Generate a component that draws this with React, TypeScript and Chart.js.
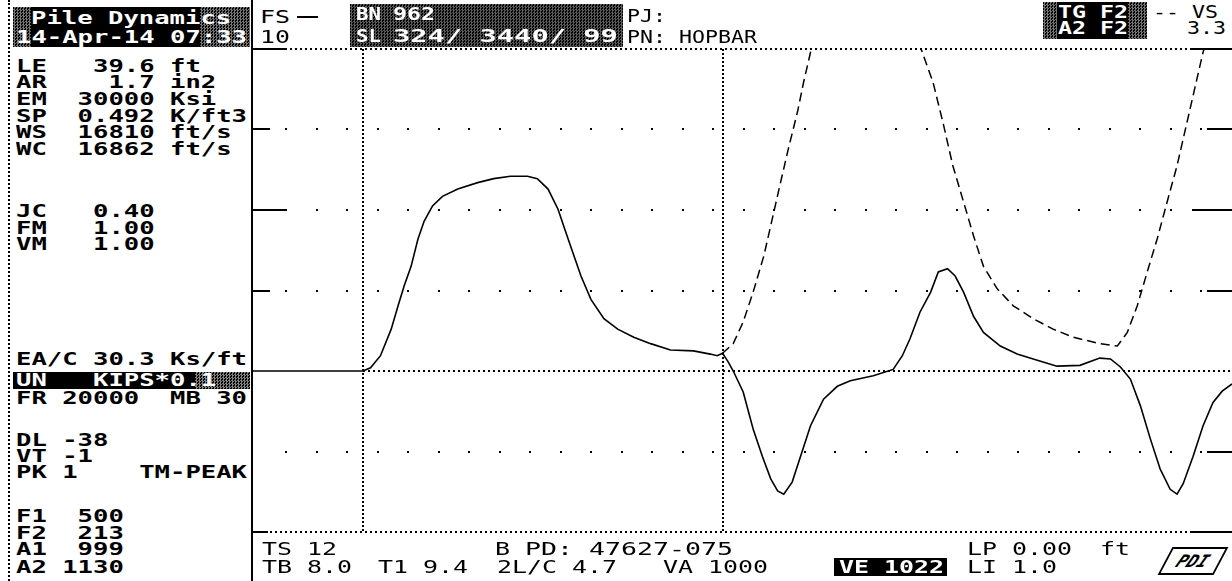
import React, { useEffect, useRef } from "react";
import { Chart, registerables } from "chart.js";

Chart.register(...registerables);

// ---------- data (time in ms, force / velocity*impedance in kips) ----------
const TWO_L_C = 4.7;
const X_MIN = -1.436;
const X_MAX = 11.358;
const Y_MIN = -20;
const Y_MAX = 40;
const yGridSparse = [30, 20, 10, -10];
const yGridDense = [40, -20];
const xMarkers = [0, TWO_L_C];

const forceTime = [
  -1.436, 0, 0.1, 0.23, 0.37, 0.46, 0.54, 0.63, 0.72, 0.8, 0.91, 1.04, 1.24, 1.5, 1.71, 1.93,
  2.15, 2.28, 2.42, 2.55, 2.65, 2.74, 2.85, 2.98, 3.15, 3.33, 3.54, 3.76, 4.02, 4.32, 4.54,
  4.63, 4.7, 4.77, 4.84, 4.97, 5.1, 5.22, 5.33, 5.42, 5.5, 5.61, 5.72, 5.85, 6.02, 6.2, 6.37,
  6.67, 6.93, 7.05, 7.15, 7.28, 7.42, 7.52, 7.64, 7.74, 7.85, 7.98, 8.11, 8.33, 8.55, 8.76,
  9.07, 9.37, 9.63, 9.77, 9.9, 10.03, 10.16, 10.29, 10.42, 10.55, 10.64, 10.72, 10.85, 10.98,
  11.11, 11.23, 11.358,
];
const forceKips = [
  0, 0, 0.4, 1.9, 5.2, 8.1, 10.6, 13.0, 16.4, 18.6, 20.5, 21.7, 22.6, 23.4, 23.9, 24.2,
  24.2, 23.9, 22.6, 20.1, 17.3, 14.8, 11.8, 8.9, 6.5, 5.2, 4.2, 3.4, 2.6, 2.5, 2.1,
  1.9, 2.2, 1.2, 0, -2.6, -7.2, -10.6, -13.4, -14.9, -15.3, -13.8, -10.6, -6.8, -3.5, -1.9, -1.2,
  -0.6, 0.2, 1.9, 4.0, 7.3, 9.8, 12.3, 12.7, 11.8, 9.8, 6.8, 4.8, 3.1, 2.1, 1.5,
  0.6, 0.7, 1.6, 1.5, 0.5, -1.0, -4.3, -8.4, -12.2, -14.7, -15.3, -14.0, -10.6, -6.8,
  -3.9, -2.5, -1.6,
];

const velTime = [
  4.7, 4.84, 4.97, 5.1, 5.24, 5.35, 5.46, 5.56, 5.68, 5.76, 5.85, 5.95, 6.2, 6.55, 6.9, 7.15,
  7.31, 7.45, 7.58, 7.71, 7.85, 7.98, 8.11, 8.29, 8.5, 8.76, 9.02, 9.28, 9.63, 9.86, 9.99,
  10.12, 10.25, 10.38, 10.51, 10.64, 10.77, 10.9, 10.98, 11.07, 11.2,
];
const velKips = [
  2.2, 3.4, 6.1, 9.8, 14.3, 18.9, 23.5, 27.6, 32.2, 35.9, 39.6, 44.5, 50, 53, 51, 44,
  39.6, 35.9, 30.9, 25.5, 21.0, 16.8, 13.0, 10.2, 8.1, 6.5, 5.2, 4.2, 3.4, 3.1, 4.8,
  8.1, 12.3, 16.4, 21.0, 25.5, 30.9, 36.3, 39.6, 42.5, 47,
];

// ---------- text helpers ----------
const FONT = '"DejaVu Sans Mono", monospace';
let mctx: CanvasRenderingContext2D | null = null;
function adv(fs: number, b: boolean): number {
  if (!mctx && typeof document !== "undefined") mctx = document.createElement("canvas").getContext("2d");
  if (!mctx) return 0.602 * fs;
  mctx.font = `${b ? "bold " : ""}${fs}px ${FONT}`;
  return mctx.measureText("0").width || 0.602 * fs;
}

type TP = { t: string; x: number; y: number; p?: number; fs?: number; b?: boolean; c?: string };
function T({ t, x, y, p = 15.4, fs = 17, b = false, c = "#000" }: TP) {
  const s = p / adv(fs, b);
  return (
    <div
      style={{
        position: "absolute",
        left: x,
        top: y - 0.48 * fs,
        font: `${b ? "bold " : ""}${fs}px ${FONT}`,
        lineHeight: `${fs}px`,
        whiteSpace: "pre",
        color: c,
        transform: `scaleX(${s})`,
        transformOrigin: "0 0",
      }}
    >
      {t}
    </div>
  );
}

function Box({ x, y, w, h, c = "#000" }: { x: number; y: number; w: number; h: number; c?: string }) {
  return <div style={{ position: "absolute", left: x, top: y, width: w, height: h, background: c }} />;
}
function Dither({ x, y, w, h, o = 0.5 }: { x: number; y: number; w: number; h: number; o?: number }) {
  return (
    <div
      style={{
        position: "absolute",
        left: x,
        top: y,
        width: w,
        height: h,
        backgroundImage: "repeating-conic-gradient(#fff 0 25%, transparent 0 50%)",
        backgroundSize: "3px 3px",
        opacity: o,
      }}
    />
  );
}

const leftRows: [string, number][] = [
  ["LE   39.6 ft", 66],
  ["AR    1.7 in2", 82],
  ["EM  30000 Ksi", 99],
  ["SP  0.492 K/ft3", 116],
  ["WS  16810 ft/s", 132],
  ["WC  16862 ft/s", 149],
  ["JC   0.40", 211],
  ["FM   1.00", 228],
  ["VM   1.00", 244],
  ["EA/C 30.3 Ks/ft", 359],
  ["FR 20000  MB 30", 398],
  ["DL -38", 440],
  ["VT -1", 456],
  ["PK 1    TM-PEAK", 472],
  ["F1  500", 516],
  ["F2  213", 533],
  ["A1  999", 549],
  ["A2 1130", 567],
];

// ---------- grid plugin ----------
const gridPlugin = {
  id: "pdaGrid",
  beforeDatasetsDraw(chart: any) {
    const { ctx, chartArea, scales } = chart;
    const { left, right, top, bottom } = chartArea;
    const xs = scales.x;
    const ys = scales.y;
    ctx.save();
    ctx.fillStyle = "#000";
    // sparse dotted grid
    for (const v of yGridSparse) {
      const py = Math.round(ys.getPixelForValue(v));
      for (let px = left + 32; px < right; px += 30.5) ctx.fillRect(Math.round(px), py - 1, 2, 2);
    }
    // dense dotted top/bottom
    for (const v of yGridDense) {
      const py = Math.round(ys.getPixelForValue(v));
      for (let px = Math.round(left) + 2; px < right; px += 5) ctx.fillRect(px, py - 1, 2, 2);
    }
    // zero line after impact
    {
      const py = Math.round(ys.getPixelForValue(0));
      for (let px = Math.round(xs.getPixelForValue(0)); px < right; px += 5) ctx.fillRect(px, py - 1, 2, 2);
    }
    // vertical markers
    for (const v of xMarkers) {
      const px = Math.round(xs.getPixelForValue(v));
      for (let py = Math.round(top); py < bottom; py += 4) ctx.fillRect(px - 1, py, 2, 2);
    }
    // ticks
    ctx.lineWidth = 2;
    ctx.strokeStyle = "#000";
    const leftTicks: [number, number][] = [[40, 32], [30, 17], [20, 34], [10, 17], [-20, 15]];
    for (const [v, len] of leftTicks) {
      const py = Math.round(ys.getPixelForValue(v));
      ctx.beginPath();
      ctx.moveTo(left, py);
      ctx.lineTo(left + len, py);
      ctx.stroke();
    }
    const rightTicks: [number, number][] = [[40, 40], [30, 25], [20, 40], [10, 25], [-10, 25], [-20, 40]];
    for (const [v, len] of rightTicks) {
      const py = Math.round(ys.getPixelForValue(v));
      ctx.beginPath();
      ctx.moveTo(right - len, py);
      ctx.lineTo(right, py);
      ctx.stroke();
    }
    ctx.restore();
  },
};

function PdaChart() {
  const ref = useRef<HTMLCanvasElement | null>(null);
  useEffect(() => {
    if (!ref.current) return;
    const chart = new Chart(ref.current, {
      type: "line",
      data: {
        datasets: [
          {
            data: forceTime.map((t, i) => ({ x: t, y: forceKips[i] })),
            borderColor: "#000",
            borderWidth: 1.6,
            pointRadius: 0,
            tension: 0,
            fill: false,
          },
          {
            data: velTime.map((t, i) => ({ x: t, y: velKips[i] })),
            borderColor: "#000",
            borderWidth: 1.5,
            borderDash: [9, 5],
            pointRadius: 0,
            tension: 0,
            fill: false,
          },
        ],
      },
      options: {
        animation: false,
        responsive: false,
        maintainAspectRatio: false,
        events: [],
        layout: { padding: { left: 3, top: 9, right: 1, bottom: 8 } },
        scales: {
          x: { type: "linear", min: X_MIN, max: X_MAX, display: false },
          y: { type: "linear", min: Y_MIN, max: Y_MAX, display: false },
        },
        plugins: { legend: { display: false }, tooltip: { enabled: false } },
      },
      plugins: [gridPlugin],
    } as any);
    return () => chart.destroy();
  }, []);
  return (
    <canvas
      ref={ref}
      width={983}
      height={500}
      style={{ position: "absolute", left: 250, top: 40, width: 983, height: 500 }}
    />
  );
}

export default function App() {
  return (
    <div
      style={{
        position: "fixed",
        left: 0,
        top: 0,
        width: 1232,
        height: 581,
        background: "#fff",
        overflow: "hidden",
      }}
    >
      {/* frame lines */}
      <div style={{ position: "absolute", left: 8, top: 0, width: 0, height: 581, borderLeft: "2px dotted #000" }} />
      <Box x={251} y={0} w={2} h={581} />

      <PdaChart />

      {/* left header box */}
      <Box x={13} y={7} w={237} h={40} />
      <Dither x={13} y={7} w={18} h={40} o={0.45} />
      <Dither x={200} y={7} w={50} h={40} o={0.45} />
      <T t="Pile Dynamics" x={31} y={18} fs={18} b c="#fff" />
      <T t="14-Apr-14 07:33" x={16} y={37} fs={18} b c="#fff" />

      {leftRows.map(([t, y]) => (
        <T key={t} t={t} x={16} y={y} b />
      ))}

      {/* UN row */}
      <Box x={13} y={372} w={237} h={17} />
      <Dither x={195} y={372} w={55} h={17} o={0.5} />
      <T t="UN   KIPS*0.1" x={16} y={380} b c="#fff" />

      {/* top header */}
      <T t="FS" x={260} y={17} p={15} />
      <Box x={297} y={16} w={21} h={1.5} />
      <T t="10" x={260} y={37} p={15} />

      <Box x={350} y={4} w={273} h={43} />
      <Dither x={350} y={4} w={273} h={43} o={0.35} />
      <T t="BN" x={356} y={14} p={12.5} b c="#fff" />
      <T t="962" x={393} y={14} p={14} b c="#fff" />
      <T t="SL" x={356} y={36} p={12.5} b c="#fff" />
      <T t="324/ 3440/ 99" x={393} y={36} p={17.3} b c="#fff" />

      <T t="PJ:" x={627} y={16} p={13} />
      <T t="PN: HOPBAR" x={627} y={37} p={13} />

      <Box x={1043} y={2} w={104} h={37} />
      <Dither x={1043} y={2} w={14} h={37} o={0.45} />
      <Dither x={1128} y={2} w={19} h={37} o={0.45} />
      <T t="TG F2" x={1058} y={12} p={14} b c="#fff" />
      <T t="A2 F2" x={1058} y={28} p={14} b c="#fff" />
      <T t="-- VS" x={1153} y={12} p={13} />
      <T t="3.3" x={1187} y={28} p={13} />

      {/* bottom info */}
      <T t="TS 12" x={262} y={549} p={15} />
      <T t="B" x={495} y={549} p={15} />
      <T t="PD: 47627-075" x={525} y={549} p={16} />
      <T t="LP 0.00" x={967} y={549} p={15} />
      <T t="ft" x={1100} y={549} p={15} />

      <T t="TB 8.0" x={262} y={567} p={15} />
      <T t="T1 9.4" x={378} y={567} p={15} />
      <T t="2L/C 4.7" x={497} y={567} p={15} />
      <T t="VA 1000" x={663} y={567} p={15} />
      <Box x={834} y={558} w={113} h={18} />
      <T t="VE 1022" x={839} y={567} p={15} b c="#fff" />
      <T t="LI 1.0" x={967} y={567} p={15} />

      {/* logo */}
      <div
        style={{
          position: "absolute",
          left: 1165,
          top: 547,
          width: 52,
          height: 24,
          border: "2px solid #000",
          transform: "skewX(-28deg)",
          display: "flex",
          alignItems: "center",
          justifyContent: "center",
          font: `italic bold 17px ${FONT}`,
          color: "#000",
        }}
      >
        PDI
      </div>
    </div>
  );
}
